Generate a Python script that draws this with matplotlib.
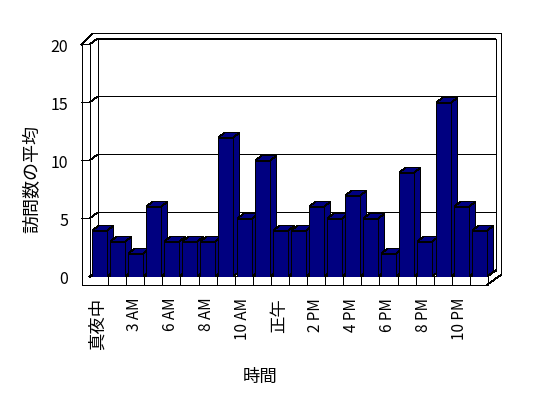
import numpy as np
import matplotlib.pyplot as plt
from matplotlib.patches import Polygon
from matplotlib.lines import Line2D
from matplotlib.transforms import IdentityTransform

plt.rcParams['font.family'] = ['Noto Sans CJK JP', 'DejaVu Sans']

# data
hours = ['真夜中', '1 AM', '3 AM', '4 AM', '6 AM', '7 AM', '8 AM', '9 AM',
         '10 AM', '11 AM', '正午', '1 PM', '2 PM', '3 PM', '4 PM', '5 PM',
         '6 PM', '7 PM', '8 PM', '9 PM', '10 PM', '11 PM']
visits = [4, 3, 2, 6, 3, 3, 3, 12, 5, 10, 4, 4, 6, 5, 7, 5, 2, 9, 3, 15, 6, 4]
y_ticks = [0, 5, 10, 15, 20]

bar_color = '#000080'
LW = 0.6
WALL_D = (8, 6)      # depth of back wall in px
BAR_D = (6, 5)       # depth of each column in px
THICK = 8            # wall / floor thickness in px

fig = plt.figure(figsize=(5.48, 3.98), dpi=100)
ax = fig.add_axes([89 / 548, 121 / 398, 398 / 548, 232 / 398])
ax.set_xlim(-0.5, len(hours) - 0.5)
ax.set_ylim(0, 20)
for s in ax.spines.values():
    s.set_visible(False)
ax.patch.set_visible(False)

x0, x1 = ax.get_xlim()
ymax = ax.get_ylim()[1]


def pt(x, y, dx=0, dy=0):
    # half pixel shift so 1px lines land on a single row/column
    X, Y = ax.transData.transform((x, y))
    return (round(X) + dx + 0.5, round(Y) + dy + 0.5)


def seg(*points, z=1):
    xs, ys = zip(*points)
    ax.add_line(Line2D(xs, ys, transform=IdentityTransform(), color='black',
                       lw=LW, antialiased=False, clip_on=False, zorder=z))


# back wall + gridlines
seg(pt(x0, 0, *WALL_D), pt(x0, ymax, *WALL_D), pt(x1, ymax, *WALL_D), pt(x1, 0, *WALL_D))
seg(pt(x0, 0, *WALL_D), pt(x1, 0, *WALL_D))
for v in y_ticks[1:]:
    seg(pt(x0, v, -THICK, 0), pt(x0, v), pt(x0, v, *WALL_D), pt(x1, v, *WALL_D))
seg(pt(x0, 0), pt(x0, 0, *WALL_D))

# left wall
seg(pt(x0, 0), pt(x0, ymax))
seg(pt(x0, 0, -THICK, -THICK), pt(x0, ymax, -THICK, 0))
# outer frame
seg(pt(x0, ymax, -THICK, 0), pt(x0, ymax, 3, 11), pt(x1, ymax, 14, 11),
    pt(x1, 0, 14, 2), pt(x1, 0, 0, -THICK))

# floor
seg(pt(x0, 0), pt(x1, 0), pt(x1, 0, *WALL_D))
seg(pt(x0, 0, -THICK, -THICK), pt(x1, 0, 0, -THICK))
seg(pt(x1, 0), pt(x1, 0, 0, -THICK))
for b in np.arange(x0 + 1, x1):
    seg(pt(b, 0), pt(b, 0, 0, -THICK))

# columns: front from ax.bar, side/top faces as polygons
xpos = np.arange(len(hours)) + 0.07
width = 0.83
bars = ax.bar(xpos, visits, width=width, color=bar_color, edgecolor='black',
              lw=LW, antialiased=False)
for i, (rect, v) in enumerate(zip(bars, visits)):
    z = 10 + 3 * i
    xl, xr = xpos[i] - width / 2, xpos[i] + width / 2
    side = [pt(xr, 0), pt(xr, 0, *BAR_D), pt(xr, v, *BAR_D), pt(xr, v)]
    top = [pt(xl, v), pt(xr, v), pt(xr, v, *BAR_D), pt(xl, v, *BAR_D)]
    for k, poly in enumerate([side, top]):
        ax.add_patch(Polygon(poly, closed=True, transform=IdentityTransform(),
                             fc=bar_color, ec='black', lw=LW, antialiased=False,
                             clip_on=False, zorder=z + k))
    rect.set_zorder(z + 2)

# ticks
ax.set_yticks(y_ticks)
ax.tick_params(axis='y', length=0, pad=15, labelsize=11.5)
ax.set_xticks(range(0, len(hours), 2))
ax.set_xticklabels(hours[::2], rotation=90, va='top', ha='center')
ax.tick_params(axis='x', length=0, pad=15, labelsize=11)
for lab in ax.get_xticklabels():
    if not lab.get_text().isascii():
        lab.set_fontsize(12.5)

fig.text(32 / 548, 1 - 179 / 398, '訪問数の平均', rotation=90, ha='center',
         va='center', fontsize=13)
fig.text(260 / 548, 1 - 377 / 398, '時間', ha='center', va='center', fontsize=12.5)

fig.savefig('out.png', dpi=100)
